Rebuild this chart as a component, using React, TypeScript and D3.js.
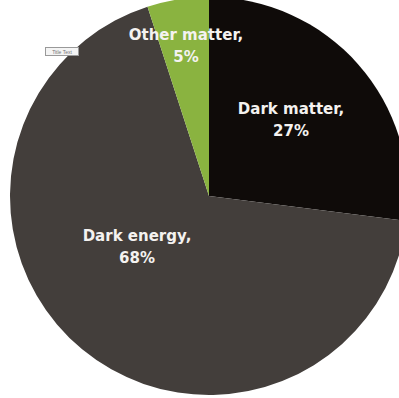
import React from "react";
import * as d3 from "d3";

const categories = ["Dark matter", "Dark energy", "Other matter"];
const values = [27, 68, 5];
const colors = ["#0f0b09", "#433e3b", "#8ab340"];
const labelPos: [number, number][] = [
  [291, 114],
  [137, 241],
  [186, 40],
];

export default function App() {
  const width = 399;
  const height = 398;
  const cx = 209;
  const cy = 196;
  const r = 199;
  const pie = d3
    .pie<number>()
    .sort(null)
    .value((d) => d);
  const arcs = pie(values);
  const arc = d3.arc<d3.PieArcDatum<number>>().innerRadius(0).outerRadius(r);
  return (
    <svg
      width={width}
      height={height}
      style={{ position: "absolute", left: 0, top: 0, background: "#fff" }}
    >
      <g transform={`translate(${cx},${cy})`}>
        {arcs.map((a, i) => (
          <path key={i} d={arc(a) || ""} fill={colors[i]} />
        ))}
      </g>
      {arcs.map((a, i) => (
        <text
          key={"t" + i}
          x={labelPos[i][0]}
          y={labelPos[i][1]}
          textAnchor="middle"
          fill="#f4f2f0"
          fontFamily="DejaVu Sans, Verdana, sans-serif"
          fontWeight="bold"
          fontSize={15}
        >
          <tspan x={labelPos[i][0]}>{categories[i]},</tspan>
          <tspan x={labelPos[i][0]} dy={22}>
            {values[i]}%
          </tspan>
        </text>
      ))}
      <rect x={45.5} y={47.5} width={33} height={8} fill="#f4f4f4" stroke="#999" strokeWidth={1} />
      <text x={62} y={54} textAnchor="middle" fontSize={5} fill="#777" fontFamily="Liberation Sans, Arial, sans-serif">
        Title Text
      </text>
    </svg>
  );
}
